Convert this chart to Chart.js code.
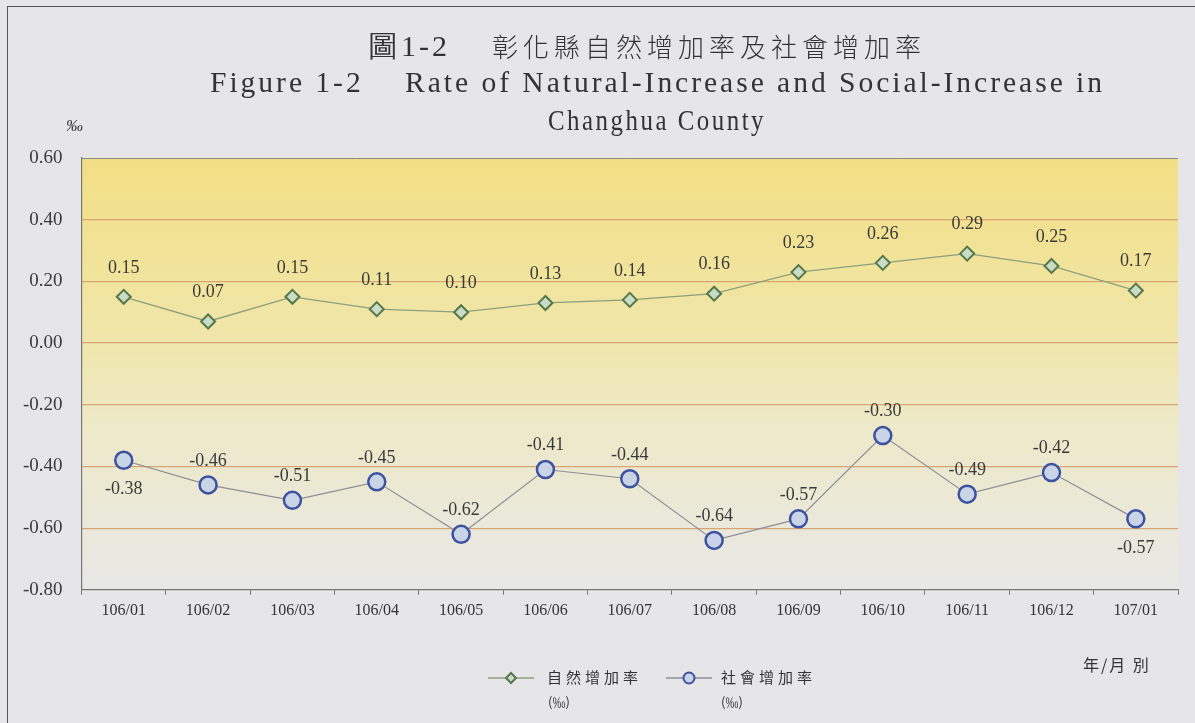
<html>
<head>
<title>彰化縣自然增加率及社會增加率</title>
<script src="https://cdn.jsdelivr.net/npm/chart.js@4.4.0/dist/chart.umd.min.js"></script>
<style>
  body { margin: 0; background: #e6e6e9; }
  #page { position: relative; width: 1195px; height: 723px; overflow: hidden; background: #e6e6e9; }
  #frame { position: absolute; left: 7px; top: 6px; width: 1200px; height: 730px; border: 1.5px solid #555; }
  .t { position: absolute; white-space: nowrap; color: #333; }
  .zh { font-family: "Noto Sans CJK TC", sans-serif; }
  .lat { font-family: "Liberation Serif", serif; transform-origin: 0 0; letter-spacing: 3px; }
  canvas { position: absolute; left: 0; top: 0; }
</style>
</head>
<body>
<div id="page">
  <div id="frame"></div>
  <canvas id="rateChart" width="1195" height="723"></canvas>

  <div class="t lat fit" data-w="82" style="left:368px; top:26px; font-size:30px;">圖1-2</div>
  <div class="t zh" style="left:492px; top:27px; font-size:26px; letter-spacing:5px; font-weight:300;">彰化縣自然增加率及社會增加率</div>
  <div class="t lat fit" data-w="895" style="left:210px; top:65px; font-size:30px;">Figure 1-2&nbsp;&nbsp;&nbsp;&nbsp;Rate of Natural-Increase and Social-Increase in</div>
  <div class="t lat fit" data-w="218" style="left:548px; top:103px; font-size:30px;">Changhua County</div>

  <div class="t" style="left:66px; top:116px; font-size:17px; font-family:'Liberation Serif'; font-style:italic;">‰</div>
  <div class="t zh" style="left:1083px; top:652px; font-size:16px; letter-spacing:2px;">年/月&nbsp;別</div>

  <!-- legend -->
  <div class="t" style="left:488px; top:668px;"><canvas id="lg1" width="46" height="20" style="position:static"></canvas></div>
  <div class="t zh" style="left:547px; top:666px; font-size:15px; letter-spacing:4px;">自然增加率</div>
  <div class="t zh" style="left:548px; top:692px; font-size:13px;">(‰)</div>
  <div class="t" style="left:666px; top:668px;"><canvas id="lg2" width="46" height="20" style="position:static"></canvas></div>
  <div class="t zh" style="left:721px; top:666px; font-size:15px; letter-spacing:4px;">社會增加率</div>
  <div class="t zh" style="left:721px; top:692px; font-size:13px;">(‰)</div>
</div>

<script>
  const months = ['106/01', '106/02', '106/03', '106/04', '106/05', '106/06', '106/07',
                  '106/08', '106/09', '106/10', '106/11', '106/12', '107/01']
  const naturalRate = [0.15, 0.07, 0.15, 0.11, 0.10, 0.13, 0.14, 0.16, 0.23, 0.26, 0.29, 0.25, 0.17]
  const socialRate = [-0.38, -0.46, -0.51, -0.45, -0.62, -0.41, -0.44, -0.64, -0.57, -0.30, -0.49, -0.42, -0.57]
  const yTicks = [0.60, 0.40, 0.20, 0.00, -0.20, -0.40, -0.60, -0.80]

  const serif = 'Liberation Serif'

  // squeeze the latin title lines to the width they have in the print
  document.querySelectorAll('.fit').forEach(el => {
    const w = el.getBoundingClientRect().width
    el.style.transform = 'scaleX(' + (el.dataset.w / w) + ')'
  })

  // yellow wash behind the plot
  const bgPlugin = {
    id: 'bg',
    beforeDraw(chart) {
      const { ctx, chartArea: a } = chart
      const g = ctx.createLinearGradient(0, a.top, 0, a.bottom)
      g.addColorStop(0, '#f2df84')
      g.addColorStop(0.4, '#f0e6a8')
      g.addColorStop(0.62, '#eee9c8')
      g.addColorStop(1, '#e8e8e6')
      ctx.save()
      ctx.fillStyle = g
      ctx.fillRect(a.left, a.top, a.right - a.left, a.bottom - a.top)
      ctx.strokeStyle = '#888'
      ctx.lineWidth = 1
      ctx.beginPath()
      ctx.moveTo(a.left, a.top + 0.5)
      ctx.lineTo(a.right, a.top + 0.5)
      ctx.stroke()
      ctx.restore()
    }
  }

  // value labels next to each point
  const valuePlugin = {
    id: 'values',
    afterDatasetsDraw(chart) {
      const ctx = chart.ctx
      ctx.save()
      ctx.font = '18px ' + serif
      ctx.fillStyle = '#3a3a3a'
      ctx.textAlign = 'center'
      chart.data.datasets.forEach((ds, di) => {
        const meta = chart.getDatasetMeta(di)
        meta.data.forEach((pt, i) => {
          const below = ds.labelsBelow && ds.labelsBelow.includes(months[i])
          ctx.textBaseline = below ? 'top' : 'bottom'
          const y = below ? pt.y + 20 : pt.y - ds.labelGap
          ctx.fillText(ds.data[i].toFixed(2), pt.x, y)
        })
      })
      ctx.restore()
    }
  }

  new Chart(document.getElementById('rateChart'), {
    type: 'line',
    data: {
      labels: months,
      datasets: [
        {
          label: '自然增加率(‰)',
          data: naturalRate,
          labelGap: 20,
          borderColor: '#8ca07e',
          borderWidth: 1.3,
          pointStyle: 'rectRot',
          pointRadius: 7,
          pointBorderWidth: 2,
          pointBorderColor: '#55774a',
          pointBackgroundColor: '#c9dcc6',
          tension: 0
        },
        {
          label: '社會增加率(‰)',
          data: socialRate,
          labelsBelow: ['106/01', '107/01'],
          labelGap: 15,
          borderColor: '#8e8e96',
          borderWidth: 1.2,
          pointStyle: 'circle',
          pointRadius: 8.5,
          pointBorderWidth: 2.5,
          pointBorderColor: '#3d52a0',
          pointBackgroundColor: '#c9d5e6',
          tension: 0
        }
      ]
    },
    options: {
      responsive: false,
      animation: false,
      layout: { padding: { left: 4, top: 158, right: 17, bottom: 97 } },
      plugins: {
        legend: { display: false },
        tooltip: { enabled: false }
      },
      scales: {
        x: {
          offset: true,
          grid: { display: true, offset: true, drawOnChartArea: false, drawTicks: true, tickLength: 5, color: '#777' },
          border: { color: '#777', width: 1.2 },
          ticks: { color: '#333', font: { family: serif, size: 16 }, padding: 6, maxRotation: 0 }
        },
        y: {
          min: -0.8,
          max: 0.6,
          afterBuildTicks(scale) {
            scale.ticks = yTicks.map(v => ({ value: v }))
          },
          grid: {
            drawTicks: false,
            color: ctx => (ctx.tick && (ctx.tick.value === 0.6 || ctx.tick.value === -0.8)) ? 'rgba(0,0,0,0)' : '#d8a674',
            lineWidth: 1.2
          },
          border: { color: '#777', width: 1.2 },
          ticks: {
            color: '#3a3a3a',
            padding: 19,
            font: { family: serif, size: 19 },
            callback: v => v.toFixed(2)
          }
        }
      }
    },
    plugins: [bgPlugin, valuePlugin]
  })

  // small legend markers
  function legendMark(id, style, border, fill, line, r) {
    const c = document.getElementById(id).getContext('2d')
    c.strokeStyle = line
    c.lineWidth = 1.3
    c.beginPath(); c.moveTo(0, 10); c.lineTo(46, 10); c.stroke()
    c.fillStyle = fill
    c.strokeStyle = border
    c.lineWidth = 2
    c.beginPath()
    if (style === 'circle') {
      c.arc(23, 10, r, 0, Math.PI * 2)
    } else {
      c.moveTo(23, 10 - r); c.lineTo(23 + r, 10); c.lineTo(23, 10 + r); c.lineTo(23 - r, 10); c.closePath()
    }
    c.fill(); c.stroke()
  }
  legendMark('lg1', 'rectRot', '#55774a', '#c9dcc6', '#8ca07e', 5)
  legendMark('lg2', 'circle', '#3d52a0', '#c9d5e6', '#8e8e96', 5.5)
</script>
</body>
</html>
